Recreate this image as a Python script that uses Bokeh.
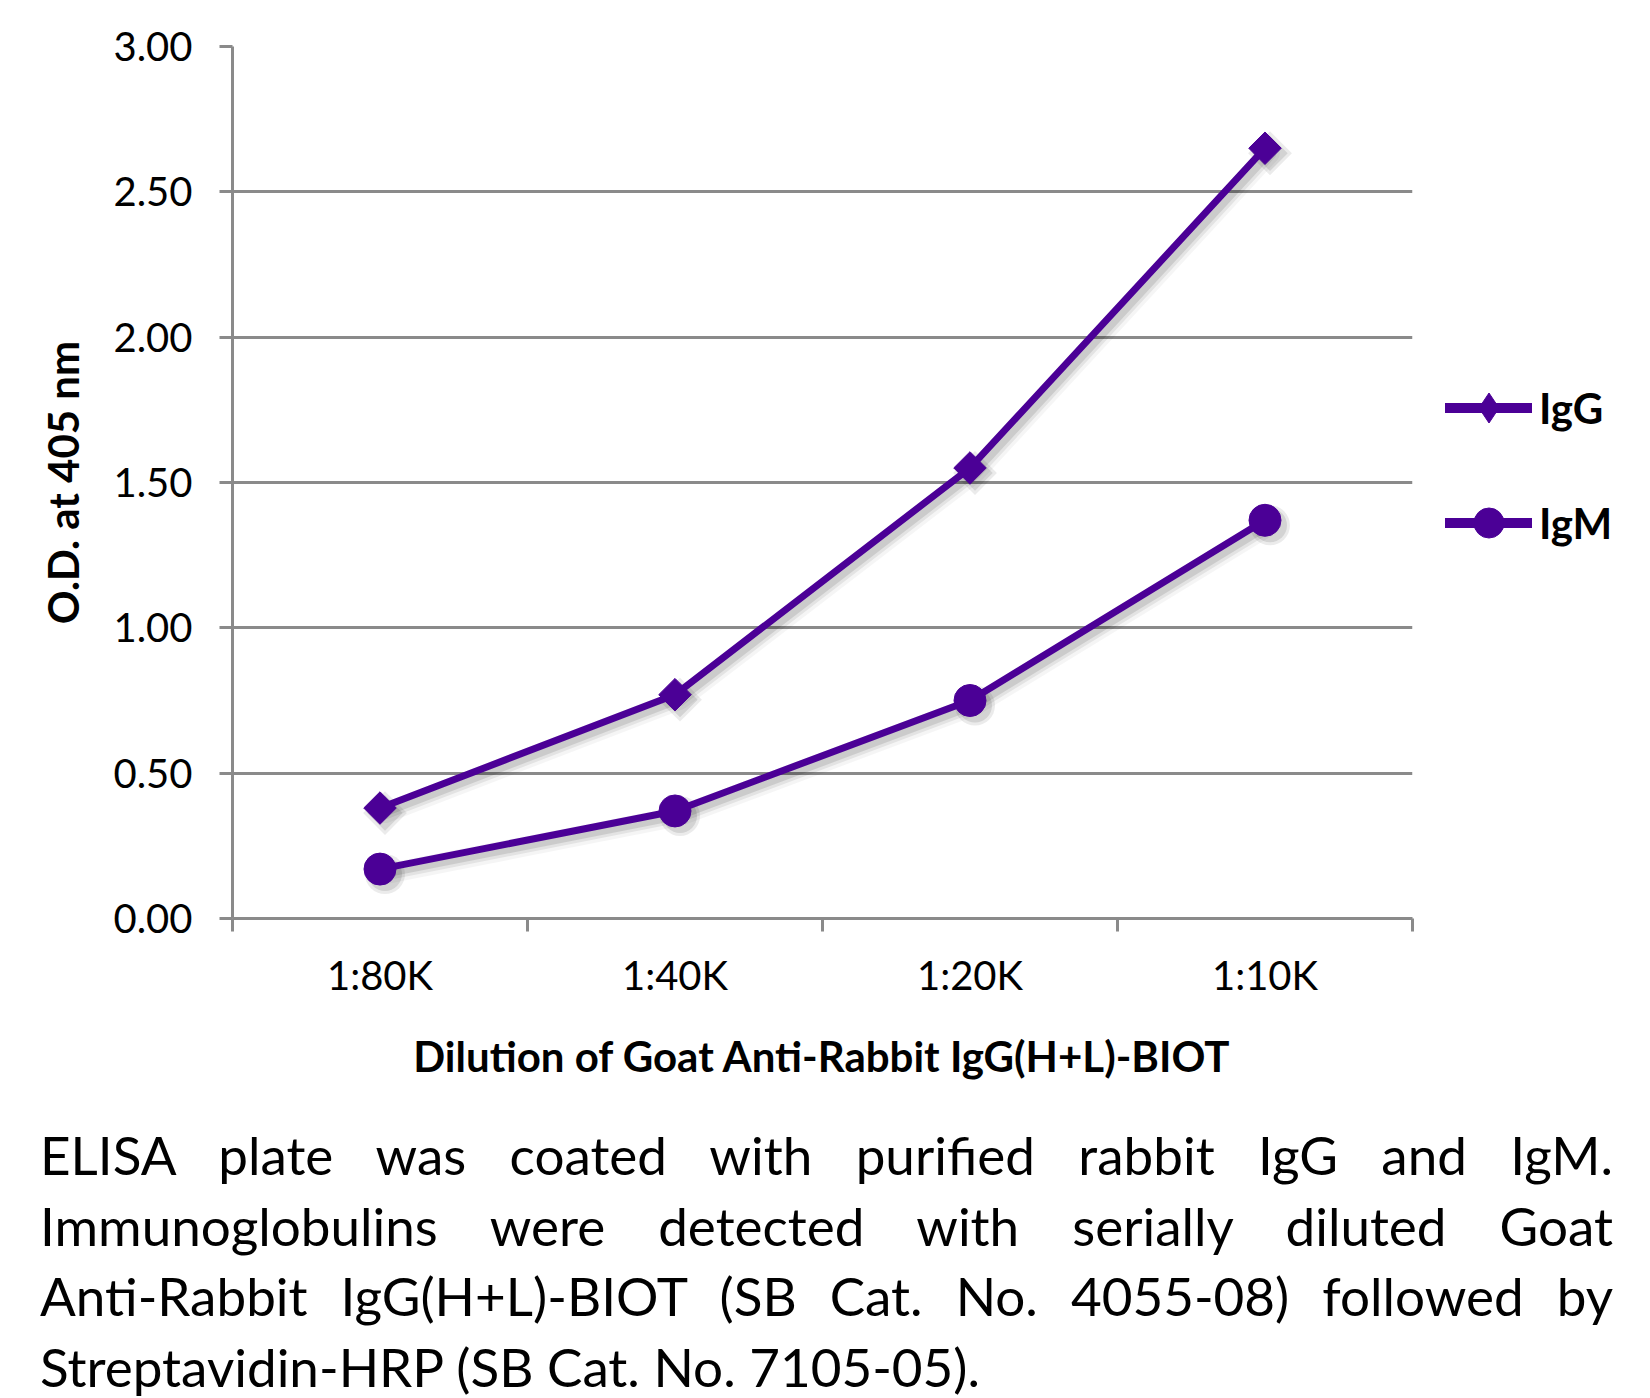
from bokeh.plotting import figure
from bokeh.models import (Range1d, FixedTicker, Legend, LegendItem, Div,
                          NumeralTickFormatter)
from bokeh.layouts import column
from bokeh.embed import file_html
from bokeh.resources import INLINE

# ---- data ----
categories = ["1:80K", "1:40K", "1:20K", "1:10K"]
igg = [0.38, 0.77, 1.55, 2.65]
igm = [0.17, 0.37, 0.75, 1.37]
y_ticks = [0.0, 0.5, 1.0, 1.5, 2.0, 2.5, 3.0]
series_names = ["IgG", "IgM"]
x_title = "Dilution of Goat Anti-Rabbit IgG(H+L)-BIOT"
y_title = "O.D. at 405 nm"
caption_lines = [
    "ELISA plate was coated with purified rabbit IgG and IgM.",
    "Immunoglobulins were detected with serially diluted Goat",
    "Anti-Rabbit IgG(H+L)-BIOT (SB Cat. No. 4055-08) followed by",
    "Streptavidin-HRP (SB Cat. No. 7105-05).",
]

FONT = "Lato"
PURPLE = "#4b0096"
GRID = "#8a8a8a"
FW, FH = 1180, 872
SH = 5  # shadow offset in px
NAN = float("nan")

xs = [i + 0.5 for i in range(len(categories))]
n = len(categories)

p = figure(frame_width=FW, frame_height=FH, output_backend="svg",
           toolbar_location=None, x_range=Range1d(0, n), y_range=Range1d(0, 3),
           min_border_left=232, min_border_top=46, min_border_bottom=202,
           min_border_right=230)
p.outline_line_color = None
p.background_fill_color = "white"

dx = SH * n / FW
dy = SH * 3 / FH
p.extra_x_ranges = {"sh": Range1d(-dx, n - dx)}
p.extra_y_ranges = {"sh": Range1d(dy, 3 + dy)}

# grid
p.xgrid.visible = False
p.ygrid.grid_line_color = GRID
p.ygrid.grid_line_width = 3

# y axis
p.yaxis.ticker = FixedTicker(ticks=y_ticks)
p.yaxis.formatter = NumeralTickFormatter(format="0.00")
p.yaxis.axis_line_color = GRID
p.yaxis.axis_line_width = 3
p.yaxis.major_tick_line_color = GRID
p.yaxis.major_tick_line_width = 3
p.yaxis.major_tick_out = 13
p.yaxis.major_tick_in = 0
p.yaxis.minor_tick_line_color = None
p.yaxis.major_label_text_font = FONT
p.yaxis.major_label_text_font_size = "40px"
p.yaxis.major_label_text_color = "black"
p.yaxis.major_label_standoff = 27
p.yaxis.axis_label = y_title
p.yaxis.axis_label_text_font = FONT
p.yaxis.axis_label_text_font_style = "bold"
p.yaxis.axis_label_text_font_size = "42px"
p.yaxis.axis_label_text_color = "black"
p.yaxis.axis_label_standoff = 22

# x axis: labels at category centres, ticks at category boundaries
p.xaxis.ticker = FixedTicker(ticks=xs, minor_ticks=list(range(n + 1)))
p.xaxis.major_label_overrides = {x: c for x, c in zip(xs, categories)}
p.xaxis.axis_line_color = GRID
p.xaxis.axis_line_width = 3
p.xaxis.major_tick_line_color = None
p.xaxis.major_tick_out = 0
p.xaxis.major_tick_in = 0
p.xaxis.minor_tick_line_color = GRID
p.xaxis.minor_tick_line_width = 3
p.xaxis.minor_tick_out = 13
p.xaxis.minor_tick_in = 0
p.xaxis.major_label_text_font = FONT
p.xaxis.major_label_text_font_size = "40px"
p.xaxis.major_label_text_color = "black"
p.xaxis.major_label_standoff = 19
p.xaxis.axis_label = x_title
p.xaxis.axis_label_text_font = FONT
p.xaxis.axis_label_text_font_style = "bold"
p.xaxis.axis_label_text_font_size = "42px"
p.xaxis.axis_label_text_color = "black"
p.xaxis.axis_label_standoff = 29

# shadows
for ys, marker, size, angle in [(igg, "square", 23, 0.785398), (igm, "circle", 32, 0)]:
    for w, a in [(20, 0.04), (13, 0.07), (7, 0.10)]:
        p.line(xs, ys, line_color="black", line_width=w, line_alpha=a,
               x_range_name="sh", y_range_name="sh", line_join="round", line_cap="round")
    p.scatter(xs, ys, marker=marker, size=size + 8, angle=angle, fill_color="black",
              fill_alpha=0.08, line_color=None, x_range_name="sh", y_range_name="sh")
    p.scatter(xs, ys, marker=marker, size=size + 2, angle=angle, fill_color="black",
              fill_alpha=0.10, line_color=None, x_range_name="sh", y_range_name="sh")

# series
for ys, marker, size, angle in [(igg, "square", 23, 0.785398), (igm, "circle", 32, 0)]:
    p.line(xs, ys, line_color=PURPLE, line_width=7, line_join="round")
    p.scatter(xs, ys, marker=marker, size=size, angle=angle,
              fill_color=PURPLE, line_color=PURPLE, line_width=1)

# legend-only glyphs (a single NaN point, so nothing is drawn in the plot)
items = []
for name, marker in zip(series_names, ["diamond", "circle"]):
    ln = p.line([NAN], [NAN], line_color=PURPLE, line_width=10, line_cap="round")
    sc = p.scatter([NAN], [NAN], marker=marker, fill_color=PURPLE, line_color=PURPLE)
    items.append(LegendItem(label=name, renderers=[ln, sc]))

legend = Legend(items=items, location=(33, 358))
legend.background_fill_alpha = 0
legend.border_line_color = None
legend.label_text_font = FONT
legend.label_text_font_style = "bold"
legend.label_text_font_size = "42px"
legend.label_text_color = "black"
legend.glyph_width = 87
legend.glyph_height = 75
legend.label_height = 40
legend.label_standoff = 7
legend.spacing = 40
legend.padding = 0
legend.margin = 0
p.add_layout(legend, "right")

# caption
parts = []
for i, line in enumerate(caption_lines):
    last = i == len(caption_lines) - 1
    align = "left" if last else "justify"
    parts.append(
        f'<div style="text-align:{align};text-align-last:{align};'
        f'width:1573px;">{line}</div>'
    )
html = (f'<div style="font-family:\'{FONT}\';font-size:53px;line-height:70.5px;'
        f'color:black;width:1573px;">' + "".join(parts) + "</div>")
cap = Div(text=html, width=1573, height=262, margin=(0, 0, 0, 40),
          styles={"overflow": "visible"})

layout = column(p, cap, spacing=0)
open("out.html", "w").write(file_html(layout, INLINE))
